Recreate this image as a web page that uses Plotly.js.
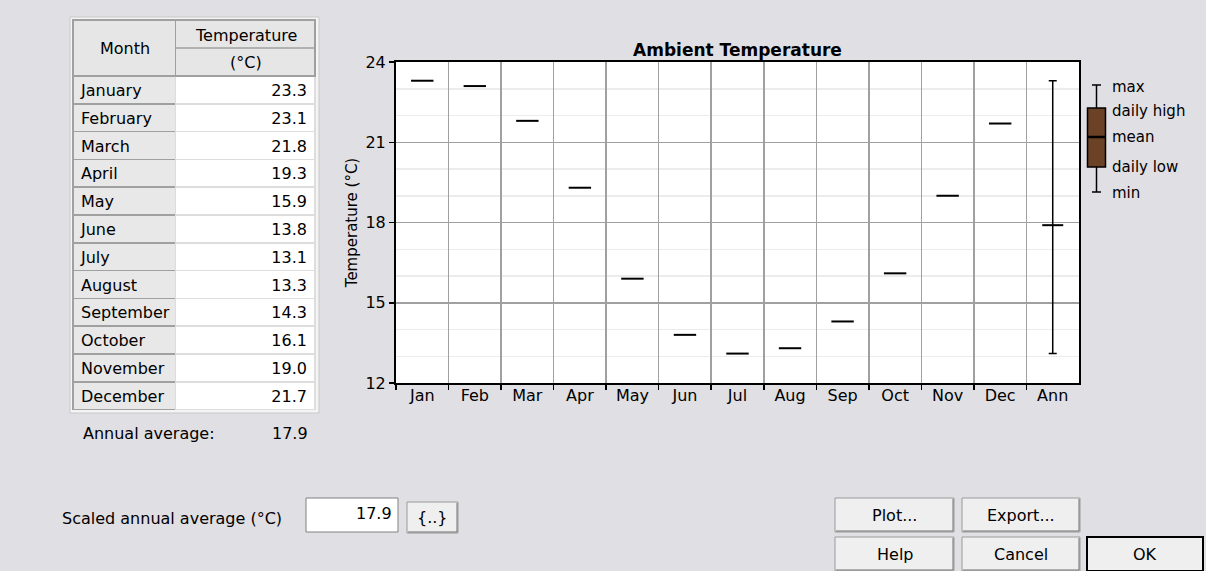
<!DOCTYPE html>
<html><head><meta charset="utf-8">
<script src="https://cdn.plot.ly/plotly-3.0.1.min.js"></script>
<style>html,body{margin:0;padding:0;background:#E0DFE3;overflow:hidden}</style>
</head><body><div id="chart" style="width:1206px;height:571px"></div>
<script>
// ---- data ----
const categories = ['Jan','Feb','Mar','Apr','May','Jun','Jul','Aug','Sep','Oct','Nov','Dec','Ann'];
const monthNames = ['January','February','March','April','May','June','July','August','September','October','November','December'];
const temps = [23.3, 23.1, 21.8, 19.3, 15.9, 13.8, 13.1, 13.3, 14.3, 16.1, 19.0, 21.7];
const annMean = 17.9;
const annMax = 23.3;
const annMin = 13.1;
const scaledAverage = 17.9;
const yTicks = [12, 15, 18, 21, 24];
const tableHeaders = ['Month', 'Temperature', '(°C)'];
const legendLabels = ['max', 'daily high', 'mean', 'daily low', 'min'];
const buttonLabels = ['Plot...', 'Export...', 'Help', 'Cancel', 'OK'];

// ---- helpers (pixel -> paper) ----
const W = 1206, H = 571;
const px = x => x / W;
const py = y => 1 - y / H;
const FONT = 'DejaVu Sans';

const traces = [
  {
    type: 'scatter', mode: 'markers',
    x: categories.slice(0, 12), y: temps,
    marker: {symbol: 'line-ew', size: 16, color: '#000', line: {width: 2, color: '#000'}},
    hoverinfo: 'x+y', showlegend: false, cliponaxis: false
  },
  {
    type: 'scatter', mode: 'markers',
    x: [categories[12]], y: [annMean],
    marker: {symbol: 'line-ew', size: 15, color: '#000', line: {width: 2, color: '#000'}},
    error_y: {type: 'data', symmetric: false, array: [annMax - annMean], arrayminus: [annMean - annMin],
              color: '#000', thickness: 1.5, width: 4},
    showlegend: false, cliponaxis: false
  },
  {
    type: 'table',
    domain: {x: [px(73), px(316)], y: [py(410), py(20)]},
    columnwidth: [103, 140],
    header: {
      values: ['', ''],
      height: 56,
      fill: {color: ['#E6E6E6', '#E6E6E6']},
      line: {color: '#A0A0A0', width: 1.5},
      font: {family: FONT, size: 16, color: '#000'}
    },
    cells: {
      values: [monthNames, temps.map(v => v.toFixed(1))],
      height: 27.8,
      align: ['left', 'right'],
      fill: {color: ['#E8E8E8', '#FFFFFF']},
      line: {color: ['#A0A0A0', '#DDDDDD'], width: 1.5},
      font: {family: FONT, size: 16, color: '#000'}
    }
  }
];

const shapes = [];
const annotations = [];
function rect(x0, y0, x1, y1, fill, line, lw, layer) {
  shapes.push({type: 'rect', xref: 'paper', yref: 'paper', x0: px(x0), x1: px(x1), y0: py(y1), y1: py(y0),
    fillcolor: fill, line: {color: line, width: lw}, layer: layer || 'above'});
}
function seg(x0, y0, x1, y1, color, lw, layer) {
  shapes.push({type: 'line', xref: 'paper', yref: 'paper', x0: px(x0), x1: px(x1), y0: py(y0), y1: py(y1),
    line: {color: color, width: lw}, layer: layer || 'above'});
}
function text(t, x, y, anchor, size, extra) {
  annotations.push(Object.assign({text: t, xref: 'paper', yref: 'paper', x: px(x), y: py(y),
    xanchor: anchor, yanchor: 'middle', showarrow: false,
    font: {family: FONT, size: size || 16, color: '#000'}}, extra || {}));
}

// table frame
rect(70, 17, 319, 413, '#F4F4F4', '#C8C8C8', 1, 'below');
// header texts
seg(176, 48, 316, 48, '#A0A0A0', 1.5);
text(tableHeaders[0], 124.5, 48, 'center');
text(tableHeaders[1], 246, 35, 'center');
text(tableHeaders[2], 246, 62, 'center');
// annual average
text('Annual average:', 81, 433, 'left');
text(annMean.toFixed(1), 310, 433, 'right');

// legend icon (box-plot key)
const lx = 1096.5;
seg(lx, 85, lx, 108, '#000', 1.5);
seg(lx, 167, lx, 192, '#000', 1.5);
seg(lx - 4.5, 85, lx + 4.5, 85, '#000', 1.5);
seg(lx - 4.5, 192, lx + 4.5, 192, '#000', 1.5);
rect(1087.5, 108, 1105.5, 167, '#6B4226', '#000', 1.5);
seg(1087.5, 137, 1105.5, 137, '#000', 2.5);
const legendY = [87, 111, 137, 167, 193];
legendLabels.forEach((l, i) => text(l, 1110, legendY[i], 'left', 15));

// bottom controls
text('Scaled annual average (°C)', 60, 518, 'left');
rect(306, 498, 398, 532, '#FFFFFF', '#808080', 1);
text(scaledAverage.toFixed(1), 394, 513, 'right');
function button(x0, y0, x1, y1, label, strong) {
  rect(x0, y0, x1, y1, '#EFEFEF', strong ? '#000' : '#9A9A9A', strong ? 2 : 1);
  if (!strong) {
    seg(x0 + 1, y1 - 1, x1 - 1, y1 - 1, '#707070', 1);
    seg(x1 - 1, y0 + 1, x1 - 1, y1 - 1, '#707070', 1);
  }
  text(label, (x0 + x1) / 2, (y0 + y1) / 2, 'center');
}
button(407, 502, 458, 533, '{..}');
button(835, 498, 954, 532, buttonLabels[0]);
button(962, 498, 1080, 532, buttonLabels[1]);
button(835, 537, 954, 571, buttonLabels[2]);
button(962, 537, 1080, 571, buttonLabels[3]);
button(1087, 537, 1203, 571, buttonLabels[4], true);

const layout = {
  width: W, height: H, autosize: false,
  margin: {l: 0, r: 0, t: 0, b: 0, pad: 0},
  paper_bgcolor: '#E0DFE3', plot_bgcolor: '#FFFFFF',
  showlegend: false,
  title: {text: 'Ambient Temperature', xref: 'paper', yref: 'paper', x: px(737.5), xanchor: 'center',
          y: py(50.5), yanchor: 'middle', font: {family: FONT, size: 17, weight: 'bold', color: '#000'}},
  xaxis: {
    type: 'category', categoryorder: 'array', categoryarray: categories,
    range: [-0.5, 12.5], domain: [px(396), px(1079)],
    tickson: 'boundaries', ticks: 'outside', ticklen: 5, tickwidth: 1.5, tickcolor: '#000',
    ticklabelstandoff: -3,
    showgrid: true, gridcolor: '#A0A0A0', gridwidth: 1.5,
    showline: true, linecolor: '#000', linewidth: 2, mirror: true,
    tickfont: {family: FONT, size: 16, color: '#000'}, fixedrange: true, zeroline: false
  },
  yaxis: {
    range: [12, 24], domain: [py(383), py(62)],
    tickmode: 'array', tickvals: yTicks, ticktext: yTicks.map(String),
    ticks: 'outside', ticklen: 5, tickwidth: 1.5, tickcolor: '#000',
    showgrid: true, gridcolor: '#A0A0A0', gridwidth: 1.5,
    minor: {dtick: 1, tick0: 12, showgrid: true, gridcolor: '#ECECEC', gridwidth: 1.5},
    showline: true, linecolor: '#000', linewidth: 2, mirror: true, zeroline: false,
    tickfont: {family: FONT, size: 16, color: '#000'},
    title: {text: 'Temperature (°C)', font: {family: FONT, size: 15, color: '#000'}, standoff: 4},
    fixedrange: true
  },
  shapes: shapes,
  annotations: annotations
};

Plotly.newPlot('chart', traces, layout, {displayModeBar: false, staticPlot: true});
</script></body></html>
